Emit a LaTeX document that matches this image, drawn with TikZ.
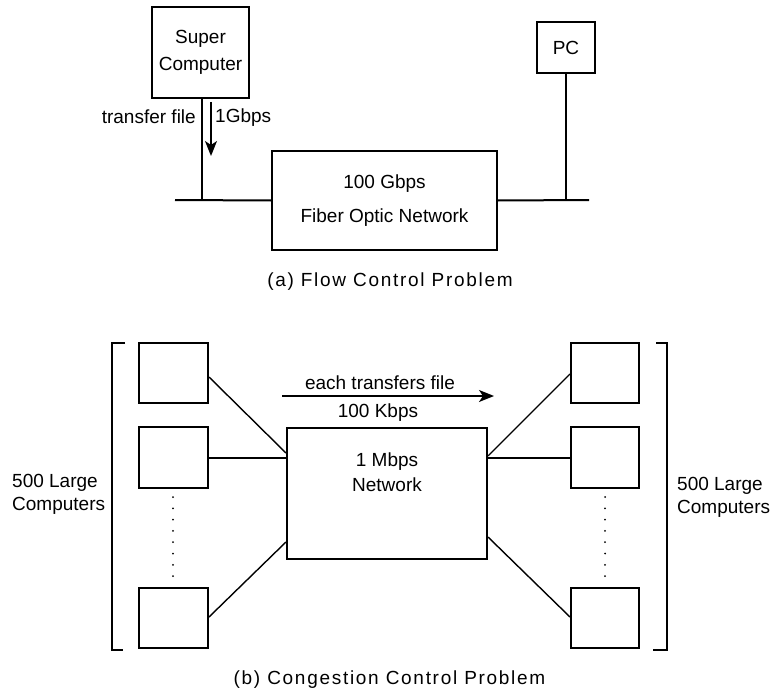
\documentclass[tikz,border=0pt]{standalone}
\usepackage{fontspec}
\setmainfont{Liberation Sans}
\newfontfamily\capfont[LetterSpace=9]{Liberation Sans}
\usetikzlibrary{arrows.meta,calc}

\begin{document}
\begin{tikzpicture}[x=1pt,y=-1pt,
  font=\fontsize{19}{23}\selectfont,
  box/.style={draw,line width=2pt,inner sep=0pt},
  textnode/.style={inner sep=0pt},
  wire/.style={line width=2pt},
  diag/.style={line width=1.4pt},
  flowarrow/.style={line width=1.7pt,-{Stealth[length=15pt,width=12pt,inset=4pt]}},
  caption/.style={inner sep=0pt,font=\capfont\fontsize{19}{23}\selectfont}]
\path[use as bounding box] (0,0) rectangle (772,693);

% ---------- (a) flow control ----------
\node[box,minimum width=97,minimum height=91,align=center] (sc) at (200.5,52.5) {Super\\[4pt]Computer};
\node[box,minimum width=58,minimum height=51] (pc) at (566,47.5) {PC};
\node[box,minimum width=225,minimum height=99,align=center] (fon) at (384.5,200.5) {100 Gbps\\[11pt]Fiber Optic Network};

\coordinate (busL) at (175,200);
\coordinate (busR) at (589,200);
\coordinate (tapSC) at ([xshift=1.5pt]sc.south |- busL);
\coordinate (tapPC) at (pc.south |- busR);
\draw[wire] (busL) -- (fon.west);
\draw[wire] (fon.east) -- (busR);
\draw[wire] ([xshift=1.5pt]sc.south) -- (tapSC);
\draw[wire] (pc.south) -- (tapPC);

\coordinate (fromSC) at (211,102);
\coordinate (toBus) at (211,156);
\draw[flowarrow] (fromSC) -- (toBus);
\node[textnode,anchor=east] (tf) at (196,117) {transfer file};
\node[textnode,anchor=west] (rateA) at (215,118) {1Gbps};

\node[caption] (capA) at (390,282) {(a) Flow Control Problem};

% ---------- (b) congestion control ----------
\coordinate (lbA) at (125,343);
\coordinate (lbB) at (112,343);
\coordinate (lbC) at (112,650);
\coordinate (lbD) at (123,650);
\draw[wire] (lbA) -- (lbB) -- (lbC) -- (lbD);
\coordinate (rbA) at (656,343);
\coordinate (rbB) at (667,343);
\coordinate (rbC) at (667,650);
\coordinate (rbD) at (653,650);
\draw[wire] (rbA) -- (rbB) -- (rbC) -- (rbD);

\node[box,minimum width=69,minimum height=60] (L1) at (173.5,373) {};
\node[box,minimum width=69,minimum height=61] (L2) at (173.5,457.5) {};
\node[box,minimum width=69,minimum height=60] (L3) at (173.5,618) {};
\node[box,minimum width=68,minimum height=60] (R1) at (605,373) {};
\node[box,minimum width=68,minimum height=61] (R2) at (605,457.5) {};
\node[box,minimum width=68,minimum height=60] (R3) at (605,618) {};

\node[box,minimum width=200,minimum height=131] (mb) at (387,493.5) {};
\node[textnode,align=center] (mbtext) at (387,472.5) {1 Mbps\\[2pt]Network};

\draw[diag] ([yshift=-4pt]L1.east) -- ([yshift=40.5pt]mb.west);
\draw[wire] (L2.east) -- (L2.east -| mb.west);
\draw[diag] ([yshift=1pt]L3.east) -- ([yshift=-48.5pt]mb.west);
\draw[diag] ([yshift=37.5pt]mb.east) -- ([yshift=-1pt]R1.west);
\draw[wire] (R2.west -| mb.east) -- (R2.west);
\draw[diag] ([yshift=-43.5pt]mb.east) -- ([yshift=1pt]R3.west);

\coordinate (flowS) at (282,396);
\coordinate (flowE) at (494,396);
\draw[flowarrow] (flowS) -- (flowE);
\node[textnode] (each) at (380,383) {each transfers file};
\node[textnode] (rateB) at (378,413) {100 Kbps};

\foreach \k in {0,...,7} {
  \fill (173,497+11.3*\k) circle (1);
  \fill (605,497+11.3*\k) circle (1);
}

\node[textnode,anchor=west,align=left] (leftlab) at (12,494) {500 Large\\Computers};
\node[textnode,anchor=west,align=left] (rightlab) at (677,497) {500 Large\\Computers};

\node[caption] (capB) at (389.5,680) {(b) Congestion Control Problem};
\end{tikzpicture}
\end{document}
